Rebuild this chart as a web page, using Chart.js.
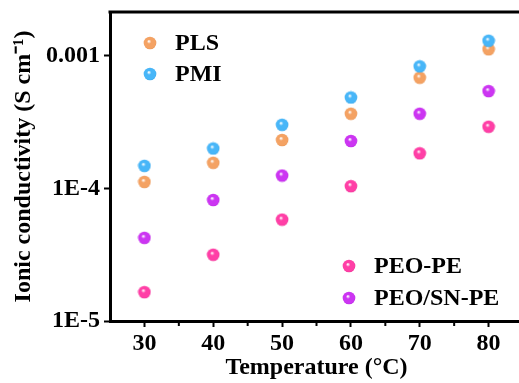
<!DOCTYPE html>
<html>
<head>
<meta charset="utf-8">
<script src="https://cdn.jsdelivr.net/npm/chart.js@4/dist/chart.umd.min.js"></script>
<style>
  html, body { margin: 0; padding: 0; background: #fff; overflow: hidden; }
  #wrap { width: 528px; height: 383px; }
</style>
</head>
<body>
<div id="wrap"><canvas id="myChart"></canvas></div>
<script>
// data
var temperatures = [30, 40, 50, 60, 70, 80];
var plsValues    = [1.12e-4, 1.56e-4, 2.32e-4, 3.66e-4, 6.84e-4, 1.12e-3];
var pmiValues    = [1.48e-4, 2.00e-4, 3.02e-4, 4.85e-4, 8.33e-4, 1.30e-3];
var peoPeValues  = [1.65e-5, 3.16e-5, 5.82e-5, 1.04e-4, 1.84e-4, 2.92e-4];
var peoSnValues  = [4.24e-5, 8.18e-5, 1.25e-4, 2.28e-4, 3.66e-4, 5.42e-4];
var xMajorTicks  = [30, 40, 50, 60, 70, 80];
var xMinorTicks  = [35, 45, 55, 65, 75];
var yTickValues  = [1e-5, 1e-4, 1e-3];
var yTickLabels  = ['1E-5', '1E-4', '0.001'];

var FONT = "'Liberation Serif', 'Times New Roman', serif";

// little shaded ball used as the marker
function ball(color, dark) {
    var c = document.createElement('canvas');
    c.width = 14; c.height = 14;
    var g = c.getContext('2d');
    var grd = g.createRadialGradient(5.8, 5.2, 0.3, 7, 7, 7);
    grd.addColorStop(0, '#ffffff');
    grd.addColorStop(0.28, color);
    grd.addColorStop(0.8, color);
    grd.addColorStop(1, dark);
    g.fillStyle = grd;
    g.beginPath();
    g.arc(7, 7, 6.3, 0, Math.PI * 2);
    g.fill();
    return c;
}

var balls = {
    pls: ball('#f4a263', '#e08c48'),
    pmi: ball('#48b6f8', '#2f9ce0'),
    pe:  ball('#ff3fa6', '#e02a8c'),
    sn:  ball('#cc35f2', '#b020d8')
};

function pts(values) {
    return values.map(function (v, i) { return { x: temperatures[i], y: v }; });
}

// frame top line, minor x ticks and the two legend blocks
var extras = {
    id: 'extras',
    afterDraw: function (chart) {
        var c = chart.ctx, a = chart.chartArea, xs = chart.scales.x;
        c.save();
        c.strokeStyle = '#000';
        c.lineWidth = 3;
        c.beginPath();
        c.moveTo(a.left - 1.5, a.top);
        c.lineTo(a.right + 1.5, a.top);
        c.moveTo(a.right, a.top);
        c.lineTo(a.right, a.bottom);
        c.stroke();

        c.lineWidth = 2;
        c.beginPath();
        xMinorTicks.forEach(function (t) {
            var px = xs.getPixelForValue(t);
            c.moveTo(px, a.bottom);
            c.lineTo(px, a.bottom + 5);
        });
        c.stroke();

        c.font = 'bold 24px ' + FONT;
        c.fillStyle = '#000';
        c.textBaseline = 'middle';
        var legend = [
            [balls.pls, 'PLS', a.left + 40, a.top + 31],
            [balls.pmi, 'PMI', a.left + 40, a.top + 62],
            [balls.pe, 'PEO-PE', a.left + 239, a.bottom - 55],
            [balls.sn, 'PEO/SN-PE', a.left + 239, a.bottom - 23]
        ];
        legend.forEach(function (l) {
            c.drawImage(l[0], l[2] - 7, l[3] - 7);
            c.fillText(l[1], l[2] + 25, l[3] + 1);
        });
        c.restore();
    }
};

var ctx = document.getElementById('myChart').getContext('2d');

var myChart = new Chart(ctx, {
    type: 'scatter',
    data: {
        datasets: [
            { label: 'PMI', data: pts(pmiValues), pointStyle: balls.pmi },
            { label: 'PLS', data: pts(plsValues), pointStyle: balls.pls },
            { label: 'PEO/SN-PE', data: pts(peoSnValues), pointStyle: balls.sn },
            { label: 'PEO-PE', data: pts(peoPeValues), pointStyle: balls.pe }
        ]
    },
    options: {
        responsive: true,
        maintainAspectRatio: false,
        animation: false,
        layout: { padding: { top: 12, right: 3, left: 0, bottom: 0 } },
        plugins: {
            legend: { display: false },
            tooltip: { enabled: false }
        },
        scales: {
            x: {
                type: 'linear',
                min: 25,
                max: 85,
                afterBuildTicks: function (s) {
                    s.ticks = xMajorTicks.map(function (v) { return { value: v }; });
                },
                afterFit: function (s) { s.height = 62; },
                border: { display: true, color: '#000', width: 3 },
                grid: { drawOnChartArea: false, drawTicks: true, tickLength: 6, tickColor: '#000', tickWidth: 2 },
                ticks: {
                    color: '#000',
                    padding: 2,
                    maxRotation: 0,
                    font: { family: FONT, size: 24, weight: 'bold' }
                },
                title: {
                    display: true,
                    text: 'Temperature (°C)',
                    color: '#000',
                    padding: { top: 0, bottom: 1 },
                    font: { family: FONT, size: 24, weight: 'bold', lineHeight: 1.2 }
                }
            },
            y: {
                type: 'logarithmic',
                min: 1e-5,
                max: 2.14e-3,
                afterBuildTicks: function (s) {
                    s.ticks = yTickValues.map(function (v) { return { value: v }; });
                },
                afterFit: function (s) {
                    s.width = 110;
                    s.paddingTop = 0;
                    s.paddingBottom = 0;
                },
                border: { display: true, color: '#000', width: 3 },
                grid: { drawOnChartArea: false, drawTicks: true, tickLength: 6, tickColor: '#000', tickWidth: 2 },
                ticks: {
                    color: '#000',
                    padding: 4,
                    font: { family: FONT, size: 24, weight: 'bold' },
                    callback: function (v) {
                        var i = yTickValues.indexOf(v);
                        return i >= 0 ? yTickLabels[i] : '';
                    }
                },
                title: {
                    display: true,
                    text: 'Ionic conductivity (S cm⁻¹)',
                    color: '#000',
                    padding: { top: 9, bottom: 0 },
                    font: { family: FONT, size: 24, weight: 'bold', lineHeight: 1.2 }
                }
            }
        }
    },
    plugins: [extras]
});
</script>
</body>
</html>
